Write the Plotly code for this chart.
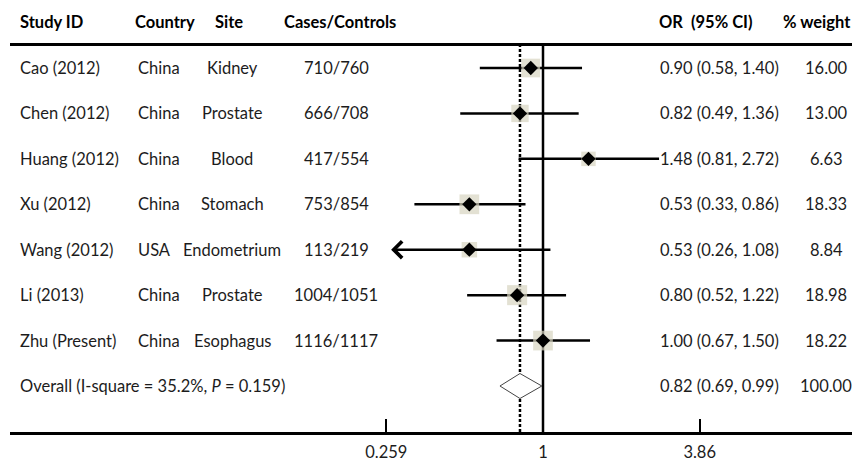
import math
import plotly.graph_objects as go

# ---------------- data ----------------
studies = ["Cao (2012)", "Chen (2012)", "Huang (2012)", "Xu (2012)",
           "Wang (2012)", "Li (2013)", "Zhu (Present)"]
countries = ["China", "China", "China", "China", "USA", "China", "China"]
sites = ["Kidney", "Prostate", "Blood", "Stomach", "Endometrium", "Prostate", "Esophagus"]
cases_controls = ["710/760", "666/708", "417/554", "753/854", "113/219", "1004/1051", "1116/1117"]
or_est = [0.90, 0.82, 1.48, 0.53, 0.53, 0.80, 1.00]
ci_low = [0.58, 0.49, 0.81, 0.33, 0.26, 0.52, 0.67]
ci_high = [1.40, 1.36, 2.72, 0.86, 1.08, 1.22, 1.50]
weights = [16.00, 13.00, 6.63, 18.33, 8.84, 18.98, 18.22]

overall_label = "Overall (I-square = 35.2%, <i>P</i> = 0.159)"
overall_or = 0.82
overall_low = 0.69
overall_high = 0.99
overall_weight = 100.00

headers = ["Study ID", "Country", "Site", "Cases/Controls", "OR&nbsp; (95% CI)", "% weight"]
tick_vals = [0.259, 1, 3.86]
tick_text = ["0.259", "1", "3.86"]
display_min = 0.27   # CIs below this are drawn as arrows ending here

# ---------------- layout constants ----------------
W, H = 852, 462
ML, MR, MT, MB = 10, 0, 46, 30
PW, PH = W - ML - MR, H - MT - MB
ONE_PX = 543          # pixel of OR = 1
PX_PER_LN = 116.0     # pixels per natural-log unit
ROW0_PX = 68
ROW_STEP = 45.43

px_per_dec = PX_PER_LN * math.log(10)
x_range = [-(ONE_PX - ML) / px_per_dec, (W - MR - ONE_PX) / px_per_dec]
y_top = (MT - ROW0_PX) / ROW_STEP
y_bot = (MT + PH - ROW0_PX) / ROW_STEP
y_range = [y_bot, y_top]


def px(x):
    return (x - ML) / PW


FONT = "Lato, 'Open Sans', sans-serif"
FS = 16.5
TXT = "#1c1c1c"

n = len(studies)
rows = list(range(n))
overall_row = n

fig = go.Figure()

# vertical reference lines
fig.add_trace(go.Scatter(x=[1, 1], y=[y_bot, y_top], mode="lines",
                         line=dict(color="black", width=2.5),
                         hoverinfo="skip", showlegend=False))
fig.add_trace(go.Scatter(x=[overall_or, overall_or], y=[y_bot, y_top], mode="lines",
                         line=dict(color="black", width=2.5, dash="3px,2px"),
                         hoverinfo="skip", showlegend=False))

# CI lines
xs, ys = [], []
for i in rows:
    if ci_low[i] < display_min:
        continue
    xs += [ci_low[i], ci_high[i], None]
    ys += [i, i, None]
fig.add_trace(go.Scatter(x=xs, y=ys, mode="lines",
                         line=dict(color="black", width=2.5),
                         hoverinfo="skip", showlegend=False))

# weight squares
fig.add_trace(go.Scatter(x=or_est, y=rows, mode="markers",
                         marker=dict(symbol="square", color="#d7d4c1",
                                     size=[11.5 + 0.45 * w for w in weights],
                                     line=dict(width=0)),
                         hoverinfo="skip", showlegend=False))

# point estimates
fig.add_trace(go.Scatter(x=or_est, y=rows, mode="markers",
                         marker=dict(symbol="diamond", color="black", size=11,
                                     line=dict(width=0)),
                         hoverinfo="skip", showlegend=False))

# overall diamond
dh = 0.275
fig.add_trace(go.Scatter(x=[overall_low, overall_or, overall_high, overall_or, overall_low],
                         y=[overall_row, overall_row - dh, overall_row, overall_row + dh, overall_row],
                         mode="lines", fill="toself", fillcolor="white",
                         line=dict(color="#444444", width=1),
                         hoverinfo="skip", showlegend=False))

annotations = []
# arrows for truncated CIs
for i in rows:
    if ci_low[i] < display_min:
        annotations.append(dict(x=math.log10(display_min), y=i, xref="x", yref="y",
                                ax=math.log10(ci_high[i]), ay=i, axref="x", ayref="y",
                                text="", showarrow=True, arrowhead=4, arrowsize=1.3,
                                arrowwidth=2.5, arrowcolor="black", standoff=0,
                                startstandoff=0))

# header
header_x = [18, 133, 213, 282, 657, 781]
for h, hx in zip(headers, header_x):
    annotations.append(dict(x=px(hx), y=1 + (MT - 22) / PH, xref="paper", yref="paper",
                            text="<b>" + h + "</b>", showarrow=False, xanchor="left",
                            yanchor="middle", font=dict(family=FONT, size=FS, color="black")))


def add_text(txt, x, y, anchor):
    annotations.append(dict(x=px(x), y=y, xref="paper", yref="y", text=txt,
                            showarrow=False, xanchor=anchor, yanchor="middle",
                            font=dict(family=FONT, size=FS, color=TXT)))


for i in rows:
    add_text(studies[i], 18, i, "left")
    add_text(countries[i], 136, i, "left")
    add_text(sites[i], 232, i, "center")
    add_text(cases_controls[i], 336, i, "center")
    add_text(f"{or_est[i]:.2f} ({ci_low[i]:.2f}, {ci_high[i]:.2f})", 719, i, "center")
    add_text(f"{weights[i]:.2f}", 826, i, "center")

add_text(overall_label, 18, overall_row, "left")
add_text(f"{overall_or:.2f} ({overall_low:.2f}, {overall_high:.2f})", 719, overall_row, "center")
add_text(f"{overall_weight:.2f}", 826, overall_row, "center")

fig.update_layout(
    width=W, height=H,
    margin=dict(l=ML, r=MR, t=MT, b=MB, pad=0),
    paper_bgcolor="white", plot_bgcolor="white",
    showlegend=False,
    annotations=annotations,
    xaxis=dict(type="log", range=x_range, showgrid=False, zeroline=False,
               showline=True, linecolor="black", linewidth=3, mirror=True,
               ticks="inside", ticklen=13, tickwidth=1.5, tickcolor="black",
               tickvals=tick_vals, ticktext=tick_text, ticklabelstandoff=3,
               tickfont=dict(family=FONT, size=FS, color=TXT), fixedrange=True),
    yaxis=dict(range=y_range, visible=False, showgrid=False, zeroline=False,
               fixedrange=True),
)

fig.write_html("out.html", config={"displayModeBar": False},
               post_script="document.body.style.margin='0';document.body.style.overflow='hidden';")
